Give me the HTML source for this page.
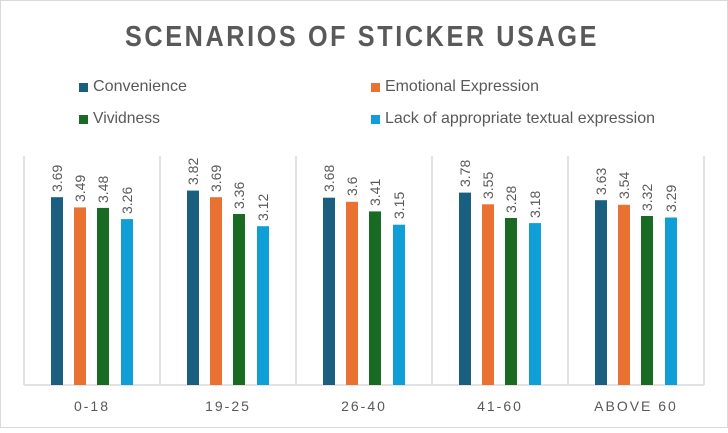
<!DOCTYPE html>
<html><head><style>
html,body{margin:0;padding:0;background:#fff;}
</style></head><body>
<svg width="728" height="428" xmlns="http://www.w3.org/2000/svg" font-family="Liberation Sans, sans-serif">
<rect x="0.5" y="0.5" width="727" height="427" fill="#fff" stroke="#d9d9d9"/>
<text x="362" y="46" text-anchor="middle" font-family="Liberation Sans Narrow, Liberation Sans, sans-serif" font-size="29" font-weight="bold" fill="#595959" letter-spacing="3" textLength="474" lengthAdjust="spacingAndGlyphs">SCENARIOS OF STICKER USAGE</text>
<g font-size="16" fill="#595959">
<rect x="79" y="83" width="9" height="9" fill="#1a5e80"/><text x="93" y="91" textLength="94" lengthAdjust="spacingAndGlyphs">Convenience</text>
<rect x="371" y="83" width="9" height="9" fill="#e97132"/><text x="385" y="91" textLength="154" lengthAdjust="spacingAndGlyphs">Emotional Expression</text>
<rect x="79" y="115" width="9" height="9" fill="#196b24"/><text x="93" y="123" textLength="67" lengthAdjust="spacingAndGlyphs">Vividness</text>
<rect x="371" y="115" width="9" height="9" fill="#0f9ed5"/><text x="385" y="123" textLength="270" lengthAdjust="spacingAndGlyphs">Lack of appropriate textual expression</text>
</g>
<g stroke="#d9d9d9" stroke-width="1.5">
<line x1="24" y1="156" x2="24" y2="385"/><line x1="160" y1="156" x2="160" y2="385"/><line x1="296" y1="156" x2="296" y2="385"/><line x1="432" y1="156" x2="432" y2="385"/><line x1="568" y1="156" x2="568" y2="385"/><line x1="704" y1="156" x2="704" y2="385"/>
<line x1="24" y1="385" x2="704" y2="385"/>
</g>
<g font-size="14" fill="#595959" letter-spacing="2" text-anchor="middle">
<text x="92" y="411">0-18</text><text x="228" y="411">19-25</text><text x="364" y="411">26-40</text><text x="500" y="411">41-60</text><text x="636" y="411">ABOVE 60</text>
</g>
<g font-size="14" fill="#595959">
<rect x="51" y="197.2" width="12" height="187.8" fill="#1a5e80"/><text transform="translate(62,192) rotate(-90)">3.69</text>
<rect x="74" y="207.4" width="12" height="177.6" fill="#e97132"/><text transform="translate(85,202) rotate(-90)">3.49</text>
<rect x="97" y="207.9" width="12" height="177.1" fill="#196b24"/><text transform="translate(108,203) rotate(-90)">3.48</text>
<rect x="121" y="219.1" width="12" height="165.9" fill="#0f9ed5"/><text transform="translate(132,214) rotate(-90)">3.26</text>

<rect x="187" y="190.6" width="12" height="194.4" fill="#1a5e80"/><text transform="translate(198,185) rotate(-90)">3.82</text>
<rect x="210" y="197.2" width="12" height="187.8" fill="#e97132"/><text transform="translate(221,192) rotate(-90)">3.69</text>
<rect x="233" y="214.0" width="12" height="171.0" fill="#196b24"/><text transform="translate(244,209) rotate(-90)">3.36</text>
<rect x="257" y="226.2" width="12" height="158.8" fill="#0f9ed5"/><text transform="translate(268,221) rotate(-90)">3.12</text>

<rect x="323" y="197.7" width="12" height="187.3" fill="#1a5e80"/><text transform="translate(334,192) rotate(-90)">3.68</text>
<rect x="346" y="201.8" width="12" height="183.2" fill="#e97132"/><text transform="translate(357,196) rotate(-90)">3.6</text>
<rect x="369" y="211.4" width="12" height="173.6" fill="#196b24"/><text transform="translate(380,206) rotate(-90)">3.41</text>
<rect x="393" y="224.7" width="12" height="160.3" fill="#0f9ed5"/><text transform="translate(404,219) rotate(-90)">3.15</text>

<rect x="459" y="192.6" width="12" height="192.4" fill="#1a5e80"/><text transform="translate(470,187) rotate(-90)">3.78</text>
<rect x="482" y="204.3" width="12" height="180.7" fill="#e97132"/><text transform="translate(493,199) rotate(-90)">3.55</text>
<rect x="505" y="218.0" width="12" height="167.0" fill="#196b24"/><text transform="translate(516,213) rotate(-90)">3.28</text>
<rect x="529" y="223.1" width="12" height="161.9" fill="#0f9ed5"/><text transform="translate(540,218) rotate(-90)">3.18</text>

<rect x="595" y="200.2" width="12" height="184.8" fill="#1a5e80"/><text transform="translate(606,195) rotate(-90)">3.63</text>
<rect x="618" y="204.8" width="12" height="180.2" fill="#e97132"/><text transform="translate(629,199) rotate(-90)">3.54</text>
<rect x="641" y="216.0" width="12" height="169.0" fill="#196b24"/><text transform="translate(652,211) rotate(-90)">3.32</text>
<rect x="665" y="217.5" width="12" height="167.5" fill="#0f9ed5"/><text transform="translate(676,212) rotate(-90)">3.29</text>
</g>
</svg>
</body></html>
